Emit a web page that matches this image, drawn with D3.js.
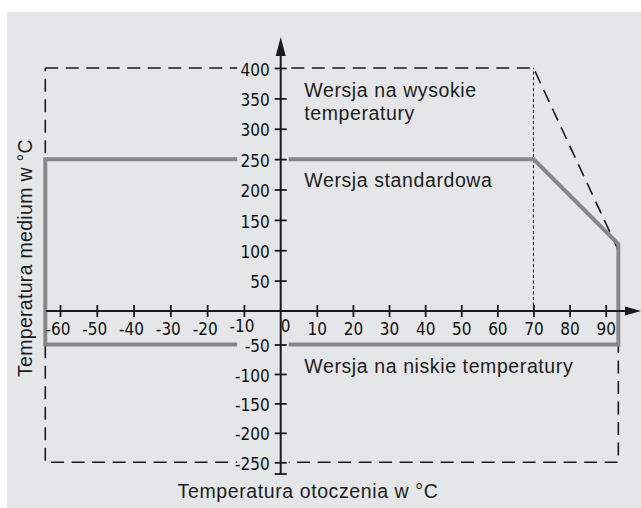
<!DOCTYPE html>
<html>
<head>
<meta charset="utf-8">
<script src="https://cdn.jsdelivr.net/npm/d3@7"></script>
<style>
    body { margin: 0; background: #fff; }
    .lbl { font-family: "Liberation Sans", Arial, sans-serif; font-size: 19.5px; letter-spacing: 0.6px; fill: #1c1c1c; }
</style>
</head>
<body>
<div id="chart"></div>
<script>
// tick labels
var xTicks = [-60, -50, -40, -30, -20, -10, 10, 20, 30, 40, 50, 60, 70, 80, 90];
var yTicks = [-250, -200, -150, -100, -50, 50, 100, 150, 200, 250, 300, 350, 400];

// standard version (grey solid)
var standardX = [-64, 70, 93.5, 93.5, -64, -64];
var standardY = [250, 250, 110, -50, -50, 250];

// high temperature version (dashed)
var highX = [-64, 70, 93.5, 93.5, -64, -64];
var highY = [400, 400, 100, -250, -250, 400];

// ambient limit for the high temperature version
var limitX = [70, 70];
var limitY = [0, 400];

// rows where the lines are broken by the y tick labels
var gapRows = [400, 250, -50, -250];

var regionLabels = ["Wersja na wysokie", "temperatury", "Wersja standardowa", "Wersja na niskie temperatury"];
var xTitle = "Temperatura otoczenia w °C";
var yTitle = "Temperatura medium w °C";

//Set Dimensions
var width = 641, height = 508;
var bg = "#e5e6e8";
var tickFont = "'DejaVu Sans Condensed', 'DejaVu Sans', sans-serif";

var svg = d3.select("#chart").append("svg")
    .attr("width", width)
    .attr("height", height);

svg.append("rect")
    .attr("x", 7).attr("y", 12)
    .attr("width", width - 7).attr("height", height - 12)
    .attr("fill", bg);

//Prepare scales (drawing is not quite uniform, so piecewise)
var x = d3.scaleLinear()
    .domain([-60, 0, 90])
    .range([60, 280.7, 605.7]);

var y = d3.scaleLinear()
    .domain([-250, -50, 0, 400])
    .range([462.3, 344.5, 311, 68]);

var line = d3.line()
    .x(d => x(d[0]))
    .y(d => y(d[1]));

var zip = (a, b) => a.map((v, i) => [v, b[i]]);

//dashed outline
svg.append("path")
    .datum(zip(highX, highY))
    .attr("d", line)
    .attr("fill", "none")
    .attr("stroke", "#1a1a1a")
    .attr("stroke-width", 1.6)
    .attr("stroke-dasharray", "13,7.5");

//dotted limit
svg.append("path")
    .datum(zip(limitX, limitY))
    .attr("d", line)
    .attr("fill", "none")
    .attr("stroke", "#1a1a1a")
    .attr("stroke-width", 1)
    .attr("stroke-dasharray", "3,2.5");

//grey standard area
svg.append("path")
    .datum(zip(standardX, standardY))
    .attr("d", line)
    .attr("fill", "none")
    .attr("stroke", "#878787")
    .attr("stroke-width", 4)
    .attr("stroke-linejoin", "miter")
    .attr("stroke-linecap", "square");

//gaps around the labels
svg.selectAll(".gap")
    .data(gapRows)
    .enter()
    .append("rect")
    .attr("class", "gap")
    .attr("x", x(0) - 43.5)
    .attr("y", d => y(d) - 4)
    .attr("width", 51.5)
    .attr("height", 8)
    .attr("fill", bg);

// Add the X Axis
var gx = svg.append("g")
    .attr("transform", "translate(0," + y(0) + ")")
    .call(d3.axisBottom(x).tickValues(xTicks).tickSize(6).tickFormat(d3.format("d")));
gx.select(".domain").remove();
gx.selectAll(".tick line").attr("y1", -6).attr("stroke", "#1a1a1a").attr("stroke-width", 1.8);
gx.selectAll(".tick text")
    .attr("dy", 0)
    .attr("y", d => d == -10 ? 21 : 24)
    .attr("x", d => d < 0 ? -2.5 : 0)
    .style("font-family", tickFont)
    .style("font-size", "17px")
    .attr("fill", "#111")
    .text(d => String(d));

gx.append("text")
    .attr("x", x(0) + 5).attr("y", 21)
    .style("font-family", tickFont)
    .style("font-size", "17px")
    .attr("fill", "#111")
    .text("0");

gx.append("line")
    .attr("x1", 46).attr("x2", 630)
    .attr("stroke", "#1a1a1a").attr("stroke-width", 2);
gx.append("path")
    .attr("d", "M641,0L625,-4.5L625,4.5Z")
    .attr("fill", "#1a1a1a");

// Add the Y Axis
var gy = svg.append("g")
    .attr("transform", "translate(" + x(0) + ",0)")
    .call(d3.axisLeft(y).tickValues(yTicks).tickSize(6).tickPadding(5).tickFormat(d3.format("d")));
gy.select(".domain").remove();
gy.selectAll(".tick line").attr("x1", 6).attr("stroke", "#1a1a1a").attr("stroke-width", 1.8);
gy.selectAll(".tick text")
    .attr("dy", "0.42em")
    .style("font-family", tickFont)
    .style("font-size", "17px")
    .attr("fill", "#111")
    .text(d => String(d));

gy.append("line")
    .attr("y1", 52).attr("y2", 474)
    .attr("stroke", "#1a1a1a").attr("stroke-width", 2);
gy.append("line")
    .attr("x1", -6).attr("x2", 6)
    .attr("y1", 474).attr("y2", 474)
    .attr("stroke", "#1a1a1a").attr("stroke-width", 1.8);
gy.append("path")
    .attr("d", "M0,37L-5,56L5,56Z")
    .attr("fill", "#1a1a1a");

//Region labels
var lx = x(0) + 23.6;
svg.append("text").attr("class", "lbl").attr("x", lx).attr("y", 96.7).text(regionLabels[0]);
svg.append("text").attr("class", "lbl").attr("x", lx).attr("y", 120).text(regionLabels[1]);
svg.append("text").attr("class", "lbl").attr("x", lx).attr("y", 186.7).text(regionLabels[2]);
svg.append("text").attr("class", "lbl").attr("x", lx).attr("y", 373).text(regionLabels[3]);

//Axis titles
svg.append("text").attr("class", "lbl")
    .attr("x", 308).attr("y", 498)
    .attr("text-anchor", "middle")
    .text(xTitle);

svg.append("text").attr("class", "lbl")
    .attr("transform", "translate(32,258) rotate(-90)")
    .attr("text-anchor", "middle")
    .style("letter-spacing", "0.3px")
    .text(yTitle);
</script>
</body>
</html>
